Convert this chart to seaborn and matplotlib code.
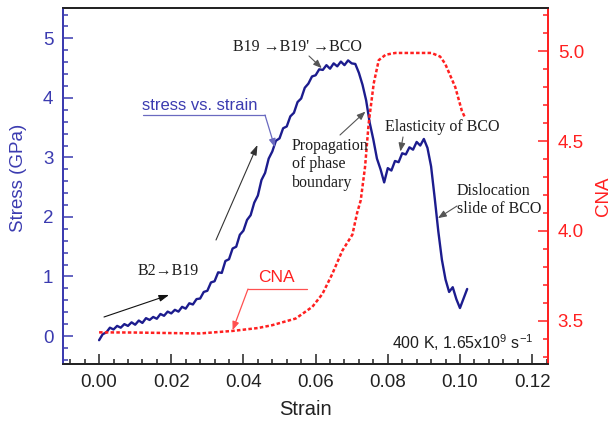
import numpy as np
import pandas as pd
import matplotlib
matplotlib.use("Agg")
import matplotlib.pyplot as plt
from matplotlib.ticker import MultipleLocator, FormatStrFormatter
from matplotlib.lines import Line2D
import seaborn as sns

# ---------------- data ----------------
strain = [0.000, 0.001, 0.002, 0.003, 0.004, 0.005, 0.006, 0.007, 0.008, 0.009,
          0.010, 0.011, 0.012, 0.013, 0.014, 0.015, 0.016, 0.017, 0.018, 0.019,
          0.020, 0.021, 0.022, 0.023, 0.024, 0.025, 0.026, 0.027, 0.028, 0.029,
          0.030, 0.031, 0.032, 0.033, 0.034, 0.035, 0.036, 0.037, 0.038, 0.039,
          0.040, 0.041, 0.042, 0.043, 0.044, 0.045, 0.046, 0.047, 0.048, 0.049,
          0.050, 0.051, 0.052, 0.053, 0.054, 0.055, 0.056, 0.057, 0.058, 0.059,
          0.060, 0.061, 0.062, 0.063, 0.064, 0.065, 0.066, 0.067, 0.068, 0.069,
          0.070, 0.071, 0.072, 0.073, 0.074, 0.075, 0.076, 0.077, 0.078, 0.079,
          0.080, 0.081, 0.082, 0.083, 0.084, 0.085, 0.086, 0.087, 0.088, 0.089,
          0.090, 0.091, 0.092, 0.093, 0.094, 0.095, 0.096, 0.097, 0.098, 0.099,
          0.100, 0.101, 0.102]
stress = [-0.07, 0.03, 0.06, 0.14, 0.11, 0.17, 0.14, 0.20, 0.17, 0.23,
          0.19, 0.26, 0.22, 0.30, 0.27, 0.32, 0.29, 0.37, 0.34, 0.41,
          0.38, 0.44, 0.41, 0.49, 0.46, 0.55, 0.53, 0.62, 0.63, 0.74,
          0.76, 0.90, 0.92, 1.07, 1.06, 1.26, 1.29, 1.47, 1.50, 1.70,
          1.77, 1.95, 2.03, 2.24, 2.36, 2.62, 2.74, 2.98, 3.10, 3.28,
          3.32, 3.49, 3.52, 3.69, 3.75, 3.93, 3.99, 4.17, 4.24, 4.36,
          4.38, 4.48, 4.47, 4.55, 4.49, 4.58, 4.53, 4.61, 4.55, 4.63,
          4.58, 4.57, 4.42, 4.22, 3.96, 3.58, 3.30, 2.98, 2.80, 2.58,
          2.82, 2.78, 2.94, 2.92, 3.07, 3.05, 3.17, 3.13, 3.26, 3.20,
          3.31, 3.16, 2.85, 2.32, 1.76, 1.28, 0.95, 0.74, 0.82, 0.62,
          0.47, 0.63, 0.79]

strain_cna = [0.000, 0.010, 0.020, 0.028, 0.037, 0.044, 0.048, 0.0545, 0.0591, 0.0619,
              0.0646, 0.0674, 0.0702, 0.0715, 0.0725, 0.0737, 0.0747, 0.0761, 0.0775, 0.0794,
              0.0821, 0.0921, 0.0945, 0.0959, 0.0987, 0.1005, 0.1014]
cna = [3.436, 3.435, 3.432, 3.430, 3.444, 3.460, 3.476, 3.513, 3.578, 3.650,
       3.760, 3.890, 3.980, 4.100, 4.170, 4.356, 4.597, 4.820, 4.950, 4.980,
       4.990, 4.990, 4.970, 4.930, 4.800, 4.670, 4.630]

x_ticks = [0.00, 0.02, 0.04, 0.06, 0.08, 0.10, 0.12]
y_ticks = [0, 1, 2, 3, 4, 5]
cna_ticks = [3.5, 4.0, 4.5, 5.0]

df_s = pd.DataFrame({"Strain": strain, "Stress": stress})
df_c = pd.DataFrame({"Strain": strain_cna, "CNA": cna})

# ---------------- style ----------------
sns.set_style("ticks")
plt.rcParams["font.family"] = ["Liberation Sans", "DejaVu Sans"]
plt.rcParams["mathtext.fontset"] = "custom"
plt.rcParams["mathtext.rm"] = "Liberation Sans"

BLUE_LINE = "#1c1c8e"
BLUE_AX = "#3b3bb0"
RED = "#ff2020"
SERIF = ["Liberation Serif", "DejaVu Serif"]

W, H = 613, 423
fig = plt.figure(figsize=(W / 100, H / 100), dpi=100)
L, R, T, B = 63, 548, 8, 364
ax = fig.add_axes([L / W, 1 - B / H, (R - L) / W, (B - T) / H])
ax2 = ax.twinx()


def fp(px, py):
    return (px / W, 1 - py / H)


sns.lineplot(data=df_s, x="Strain", y="Stress", ax=ax, color=BLUE_LINE, lw=1.7,
             sort=False, estimator=None)
sns.lineplot(data=df_c, x="Strain", y="CNA", ax=ax2, color=RED, lw=1.8,
             sort=False, estimator=None, dashes=False, linestyle=(0, (1.4, 0.9)))

ax.set_xlim(-0.01, 0.1244)
ax.set_ylim(-0.47, 5.51)
ax2.set_ylim(3.26, 5.24)

ax.set_xticks(x_ticks)
ax.set_yticks(y_ticks)
ax2.set_yticks(cna_ticks)
ax.xaxis.set_major_formatter(FormatStrFormatter("%.2f"))
ax.yaxis.set_major_formatter(FormatStrFormatter("%d"))
ax2.yaxis.set_major_formatter(FormatStrFormatter("%.1f"))
ax.xaxis.set_minor_locator(MultipleLocator(0.004))
ax.yaxis.set_minor_locator(MultipleLocator(0.2))
ax2.yaxis.set_minor_locator(MultipleLocator(0.1))

ax.tick_params(axis="x", which="both", direction="in", colors="#222222",
               labelsize=13.5, width=1.1, pad=7, top=False)
ax.tick_params(axis="x", which="major", length=7)
ax.tick_params(axis="x", which="minor", length=3.5)
ax.tick_params(axis="y", which="both", direction="in", colors=BLUE_AX,
               labelsize=13.5, width=1.1, pad=7, right=False)
ax.tick_params(axis="y", which="major", length=7)
ax.tick_params(axis="y", which="minor", length=3.5)
ax2.tick_params(axis="y", which="both", direction="in", colors=RED,
                labelsize=13.5, width=1.1, pad=7)
ax2.tick_params(axis="y", which="major", length=7)
ax2.tick_params(axis="y", which="minor", length=3.5)

for a in (ax, ax2):
    a.spines["top"].set_color("#222222")
    a.spines["bottom"].set_color("#222222")
    a.spines["left"].set_color(BLUE_AX)
    a.spines["right"].set_color(RED)
    for s in a.spines.values():
        s.set_linewidth(1.3)
    a.spines["top"].set_visible(True)
    a.spines["right"].set_visible(True)

ax.set_xlabel("Strain", fontsize=14.5, color="#222222")
ax.set_ylabel("Stress (GPa)", fontsize=13.5, color=BLUE_AX)
ax2.set_ylabel("CNA", fontsize=13.5, color=RED)
ax.xaxis.set_label_coords(0.5, -0.10)
ax.yaxis.set_label_coords(-0.075, 0.522)
ax2.yaxis.set_label_coords(1.096, 0.472)

# ---------------- annotations ----------------
grey = "#555555"
txt = "#1e1e1e"

fig.text(*fp(233, 47), "B19 \u2192B19' \u2192BCO", family=SERIF, fontsize=11.5,
         color=txt, ha="left", va="center")
ax.annotate("", xy=(0.0617, 4.50), xycoords="data", xytext=fp(309, 56),
            textcoords="figure fraction",
            arrowprops=dict(arrowstyle="-|>,head_length=0.5,head_width=0.2",
                            color=grey, lw=0.8, shrinkA=0, shrinkB=0))

fig.text(*fp(142, 106), "stress vs. strain", fontsize=12, color=BLUE_AX,
         ha="left", va="center")
fig.add_artist(Line2D([143 / W, 265 / W], [1 - 115 / H, 1 - 115 / H],
                      color="#6a6ac0", lw=0.9))
ax.annotate("", xy=(0.0487, 3.17), xycoords="data", xytext=fp(265, 115),
            textcoords="figure fraction",
            arrowprops=dict(arrowstyle="-|>,head_length=0.5,head_width=0.2",
                            color="#6a6ac0", lw=0.9, shrinkA=0, shrinkB=0))

fig.text(*fp(292, 138), "Propagation\nof phase\nboundary", family=SERIF,
         fontsize=11.5, color=txt, ha="left", va="top", linespacing=1.2)
ax.annotate("", xy=(0.0738, 3.77), xycoords="data", xytext=fp(340, 135),
            textcoords="figure fraction",
            arrowprops=dict(arrowstyle="-|>,head_length=0.5,head_width=0.2",
                            color=grey, lw=0.8, shrinkA=0, shrinkB=0))

fig.text(*fp(385, 127), "Elasticity of BCO", family=SERIF, fontsize=11.5,
         color=txt, ha="left", va="center")
ax.annotate("", xy=(0.0835, 3.10), xycoords="data", xytext=fp(403, 137),
            textcoords="figure fraction",
            arrowprops=dict(arrowstyle="-|>,head_length=0.5,head_width=0.2",
                            color=grey, lw=0.8, shrinkA=0, shrinkB=0))

fig.text(*fp(457, 183), "Dislocation\nslide of BCO", family=SERIF,
         fontsize=11.5, color=txt, ha="left", va="top", linespacing=1.2)
ax.annotate("", xy=(0.0939, 1.98), xycoords="data", xytext=fp(457, 206),
            textcoords="figure fraction",
            arrowprops=dict(arrowstyle="-|>,head_length=0.5,head_width=0.2",
                            color=grey, lw=0.8, shrinkA=0, shrinkB=0))

fig.text(*fp(138, 271), "B2\u2192B19", family=SERIF, fontsize=11.5,
         color=txt, ha="left", va="center")
ax.annotate("", xy=(0.0194, 0.69), xycoords="data", xytext=fp(104, 317),
            textcoords="figure fraction",
            arrowprops=dict(arrowstyle="-|>,head_length=0.6,head_width=0.2",
                            color="#111111", lw=0.8, shrinkA=0, shrinkB=0))
ax.annotate("", xy=(0.0439, 3.21), xycoords="data", xytext=fp(216, 240),
            textcoords="figure fraction",
            arrowprops=dict(arrowstyle="-|>,head_length=0.6,head_width=0.2",
                            color="#333333", lw=0.8, shrinkA=0, shrinkB=0))

fig.text(*fp(258, 278), "CNA", fontsize=12.5, color=RED, ha="left", va="center")
fig.add_artist(Line2D([248 / W, 307 / W], [1 - 289 / H, 1 - 289 / H],
                      color="#ff5050", lw=0.9))
ax2.annotate("", xy=(0.0370, 3.448), xycoords="data", xytext=fp(248, 289),
             textcoords="figure fraction",
             arrowprops=dict(arrowstyle="-|>,head_length=0.5,head_width=0.2",
                             color="#ff5050", lw=0.9, shrinkA=0, shrinkB=0))

fig.text(*fp(392, 343), r"400 K, 1.65x10$^{9}$ s$^{-1}$", fontsize=11.5,
         color=txt, ha="left", va="center")

fig.savefig("out.png", dpi=100)
